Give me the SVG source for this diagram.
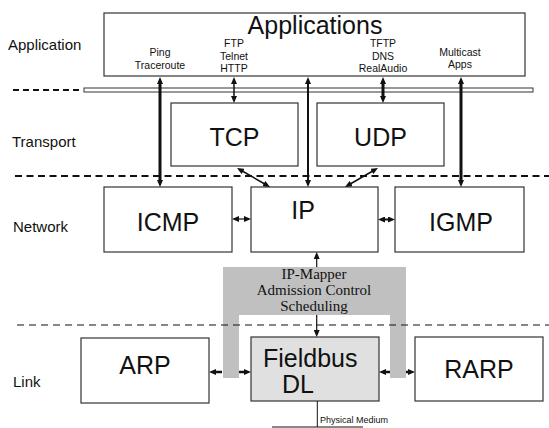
<svg xmlns="http://www.w3.org/2000/svg" width="549" height="428" viewBox="0 0 549 428">
<defs>
<style>
.box{fill:#fff;stroke:#333;stroke-width:1.2}
.big{font-family:"Liberation Sans",Arial,sans-serif;font-size:25px;fill:#111}
.lay{font-family:"Liberation Sans",Arial,sans-serif;font-size:15px;fill:#111}
.sm{font-family:"Liberation Sans",Arial,sans-serif;font-size:10.5px;fill:#111;text-anchor:middle}
.ser{font-family:"Liberation Serif","Times New Roman",serif;font-size:15px;fill:#111;text-anchor:middle}
.dash{stroke:#111;fill:none}
.arr{stroke:#111;fill:none;marker-start:url(#ah);marker-end:url(#ah)}
</style>
<marker id="ah" markerUnits="userSpaceOnUse" markerWidth="7" markerHeight="6" viewBox="0 0 7 6" refX="3" refY="3" orient="auto-start-reverse"><path d="M0,0 L7,3 L0,6 z" fill="#111"/></marker>
<marker id="ah1" markerUnits="userSpaceOnUse" markerWidth="7" markerHeight="6" viewBox="0 0 7 6" refX="3" refY="3" orient="auto"><path d="M0,0 L7,3 L0,6 z" fill="#111"/></marker>
</defs>

<g id="layers">
<text class="lay" x="8" y="50">Application</text>
<text class="lay" x="12" y="147">Transport</text>
<text class="lay" x="13" y="232">Network</text>
<text class="lay" x="13" y="387">Link</text>
</g>

<g id="separators">
<line class="dash" x1="13" y1="90" x2="80" y2="90" stroke-width="2" stroke-dasharray="6,4"/>
<rect x="84" y="88" width="449" height="4" fill="#fff" stroke="#333" stroke-width="1"/>
<line class="dash" x1="15" y1="176" x2="549" y2="176" stroke-width="1.8" stroke-dasharray="7,4.5"/>
</g>

<g id="mapper">
<path d="M223,267 H406 V378 H390 V315 H239 V378 H223 Z" fill="#c0c0c0"/>
<text class="ser" x="314" y="279">IP-Mapper</text>
<text class="ser" x="314" y="295">Admission Control</text>
<text class="ser" x="314" y="311">Scheduling</text>
</g>
<line class="dash" x1="17" y1="325" x2="549" y2="325" stroke-width="1.2" stroke-dasharray="7,5"/>

<g id="applications">
<rect class="box" x="104" y="13" width="421" height="63"/>
<text class="big" x="315" y="34" text-anchor="middle">Applications</text>
<text class="sm" x="160" y="56">Ping</text>
<text class="sm" x="160" y="69">Traceroute</text>
<text class="sm" x="234" y="47">FTP</text>
<text class="sm" x="234" y="60">Telnet</text>
<text class="sm" x="234" y="72">HTTP</text>
<text class="sm" x="383" y="47">TFTP</text>
<text class="sm" x="383" y="60">DNS</text>
<text class="sm" x="383" y="72">RealAudio</text>
<text class="sm" x="460" y="56">Multicast</text>
<text class="sm" x="460" y="68">Apps</text>
</g>

<g id="tcp">
<rect class="box" x="171" y="103" width="127" height="63"/>
<text class="big" x="234.5" y="146" text-anchor="middle">TCP</text>
</g>
<g id="udp">
<rect class="box" x="317" y="103" width="127" height="63"/>
<text class="big" x="380.5" y="146" text-anchor="middle">UDP</text>
</g>

<g id="icmp">
<rect class="box" x="104" y="187" width="128" height="65"/>
<text class="big" x="168" y="231" text-anchor="middle">ICMP</text>
</g>
<g id="ip">
<rect class="box" x="251" y="187" width="127" height="65"/>
<text class="big" x="303" y="219" text-anchor="middle">IP</text>
</g>
<g id="igmp">
<rect class="box" x="395" y="187" width="129" height="65"/>
<text class="big" x="461" y="231" text-anchor="middle">IGMP</text>
</g>

<g id="arp">
<rect class="box" x="81" y="338" width="128" height="65"/>
<text class="big" x="145" y="374" text-anchor="middle" font-size="24">ARP</text>
</g>
<g id="fieldbus">
<rect x="251" y="337" width="128" height="64" fill="#e0e0e0" stroke="#333" stroke-width="1.2"/>
<text class="big" x="263" y="367" font-size="24">Fieldbus</text>
<text class="big" x="282" y="393" font-size="24">DL</text>
</g>
<g id="rarp">
<rect class="box" x="415" y="337" width="128" height="64"/>
<text class="big" x="479" y="378" text-anchor="middle" font-size="24">RARP</text>
</g>

<g id="connectors">
<line class="arr" x1="160" y1="81" x2="160" y2="183" stroke-width="3"/>
<line class="arr" x1="234" y1="81" x2="234" y2="99" stroke-width="1.5"/>
<line class="arr" x1="308" y1="81" x2="308" y2="183" stroke-width="2"/>
<line class="arr" x1="383" y1="81" x2="383" y2="99" stroke-width="3"/>
<line class="arr" x1="461" y1="81" x2="461" y2="183" stroke-width="3"/>
<line class="arr" x1="240.5" y1="170" x2="266.5" y2="185" stroke-width="1.5"/>
<line class="arr" x1="374.5" y1="170" x2="348.5" y2="185" stroke-width="1.5"/>
<line class="arr" x1="236" y1="219" x2="247" y2="219" stroke-width="1.2"/>
<line class="arr" x1="382" y1="219.5" x2="391" y2="219.5" stroke-width="2"/>
<line x1="316.7" y1="267" x2="316.7" y2="256" stroke="#111" stroke-width="1.2" marker-end="url(#ah1)"/>
<line x1="316.7" y1="315" x2="316.7" y2="333" stroke="#111" stroke-width="1.2" marker-end="url(#ah1)"/>
<line x1="222" y1="372" x2="213" y2="372" stroke="#111" stroke-width="2.5" marker-end="url(#ah1)"/>
<line x1="239" y1="372" x2="247" y2="372" stroke="#111" stroke-width="2.5" marker-end="url(#ah1)"/>
<line x1="390" y1="372" x2="383" y2="372" stroke="#111" stroke-width="2.5" marker-end="url(#ah1)"/>
<line x1="406" y1="372" x2="411" y2="372" stroke="#111" stroke-width="2.5" marker-end="url(#ah1)"/>
</g>

<g id="physical-medium">
<line x1="317.3" y1="401" x2="317.3" y2="427" stroke="#111" stroke-width="1"/>
<line x1="272" y1="427" x2="363" y2="427" stroke="#111" stroke-width="1"/>
<text x="320" y="423" font-family="'Liberation Sans',Arial,sans-serif" font-size="9" fill="#111">Physical Medium</text>
</g>
</svg>
